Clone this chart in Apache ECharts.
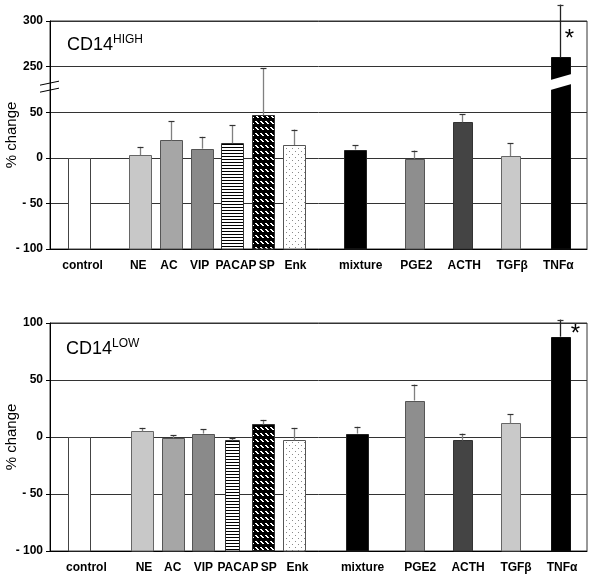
<!DOCTYPE html>
<html><head><meta charset="utf-8">
<script src="https://cdn.jsdelivr.net/npm/echarts@6/dist/echarts.min.js"></script>
<style>html,body{margin:0;padding:0;background:#fff}#c{width:600px;height:585px}</style>
</head><body><div id="c"></div>
<script>
// ---------------- DATA ----------------
const categories = ['control','NE','AC','VIP','PACAP','SP','Enk','mixture','PGE2','ACTH','TGFβ','TNFα'];
// CD14 HIGH (% change)
const highValues = [0, 3, 19, 10, 16, 47, 14, 9, -1, 39, 2, 260];
const highErrors = [0, 9, 21, 13, 20, 51, 17, 5, 9, 9, 14, 58];
// CD14 LOW (% change)
const lowValues  = [0, 5, -1, 3, -3, 11, -3, 3, 32, -3, 12, 88];
const lowErrors  = [0, 3, 2.5, 4, 2, 4, 11, 6, 14, 6, 8, 15];
const significant = ['TNFα'];
const highTicks = [-100, -50, 0, 50, 250, 300];
const lowTicks  = [-100, -50, 0, 50, 100];
const highBreak = [50, 250];

// ---------------- LAYOUT / STYLE ----------------
const slotCount = 281;
const barSlotsHigh   = [15, 47, 63, 79, 95, 111, 127, 159, 190, 215, 240, 266];
const labelSlotsHigh = [17, 46, 62, 78, 97, 113, 128, 162, 191, 216, 241, 265];
const barSlotsLow    = [15, 48, 64, 80, 95, 111, 127, 160, 190, 215, 240, 266];
const labelSlotsLow  = [19, 49, 64, 80, 98, 114, 129, 163, 193, 218, 243, 267];
function axisSlots(labelSlots) {
  const a = new Array(slotCount).fill('');
  categories.forEach((c, i) => { a[labelSlots[i]] = c; });
  return a;
}
const barWidthsHigh = [22,22,22,22,22,22,22,22,19,19,19,19];
const barWidthsLow  = [22,22,22,22,14,22,22,22,19,19,19,19];
const breakGapUnits = 50; // the break occupies one tick interval

function pattern(kind) {
  const c = document.createElement('canvas');
  const ctx = c.getContext('2d');
  if (kind === 'hstripe') {
    c.width = 4; c.height = 3;
    ctx.fillStyle = '#fff'; ctx.fillRect(0,0,4,3);
    ctx.fillStyle = '#000'; ctx.fillRect(0,0,4,1);
  } else if (kind === 'diag') {
    c.width = 5; c.height = 6;
    ctx.fillStyle = '#000'; ctx.fillRect(0,0,5,6);
    ctx.fillStyle = '#fff';
    [[0,1],[1,1],[1,2],[2,2],[2,3],[3,3]].forEach(p => ctx.fillRect(p[0],p[1],1,1));
  } else {
    c.width = 6; c.height = 6;
    ctx.fillStyle = '#fff'; ctx.fillRect(0,0,6,6);
    ctx.fillStyle = '#8a8a8a'; ctx.fillRect(1,1,1,1); ctx.fillRect(4,4,1,1);
  }
  return { image: c, repeat: 'repeat' };
}
const fills = ['#ffffff','#c8c8c8','#a6a6a6','#8a8a8a',pattern('hstripe'),pattern('diag'),pattern('dots'),
               '#000000','#8e8e8e','#444444','#c9c9c9','#000000'];
const strokes = ['#444','#666','#555','#555','#333','#333','#555','#222','#555','#333','#666','#111'];

const FONT = "'Liberation Sans', Arial, sans-serif";

// scale transforms (broken axis for CD14 HIGH; bars start at -100)
const tHigh = v => v <= highBreak[0] ? v + 100 : v - highBreak[1] + highBreak[0] + breakGapUnits + 100;
const invHigh = t => t <= highBreak[0] + 100 ? t - 100 : t + highBreak[1] - highBreak[0] - breakGapUnits - 100;
const tLow = v => v + 100;
const invLow = t => t - 100;
const fmt = v => v < 0 ? '- ' + Math.abs(v) : String(v);

const chart = echarts.init(document.getElementById('c'));

function barData(values, errors, T, slots) {
  return categories.map((c, i) => [slots[i], T(values[i]), i, values[i], errors[i], significant.indexOf(c) >= 0 ? 1 : 0]);
}

function renderBars(widths, breakInfo) {
  return function (params, api) {
    const i = api.value(2);
    const x = api.value(0);
    const p0 = api.coord([x, 0]);
    const p1 = api.coord([x, api.value(1)]);
    const w = widths[i];
    const left = Math.round(p0[0] - w / 2) + 0.5;
    const top = Math.round(p1[1]) + 0.5;
    const children = [{
      type: 'rect',
      shape: { x: left, y: top, width: w, height: Math.round(p0[1]) - top },
      style: { fill: fills[i], stroke: strokes[i], lineWidth: 1 }
    }];
    if (breakInfo && api.value(3) > breakInfo.low) {
      const yc = api.coord([x, breakInfo.mid])[1];
      const xl = left - 1, xr = left + w + 1;
      children.push({
        type: 'polygon',
        shape: { points: [[xl, yc + 3 - 5], [xr, yc - 3 - 5], [xr, yc - 3 + 5], [xl, yc + 3 + 5]] },
        style: { fill: '#fff' }
      });
    }
    return { type: 'group', children };
  };
}

function renderErrors(star) {
  return function (params, api) {
    const i = api.value(2);
    const x = api.value(0);
    const err = api.value(4);
    const p1 = api.coord([x, api.value(1)]);
    const p2 = api.coord([x, api.value(1) + err]);
    const cx = Math.round(p1[0]) + 0.5;
    const children = [];
    if (err > 0) {
      children.push({ type: 'line', shape: { x1: cx, y1: p1[1], x2: cx, y2: p2[1] }, style: { stroke: i === 11 ? '#222' : '#808080', lineWidth: 1.3 } });
      children.push({ type: 'line', shape: { x1: cx - 3, y1: Math.round(p2[1]) + 0.5, x2: cx + 3, y2: Math.round(p2[1]) + 0.5 }, style: { stroke: '#333', lineWidth: 1.2 } });
    }
    if (api.value(5)) {
      children.push({ type: 'text', x: cx + star.dx, y: p1[1] + star.dy,
        style: { text: '*', font: "24px 'Liberation Sans', Arial, sans-serif", fill: '#000', align: 'center', verticalAlign: 'middle' } });
    }
    return { type: 'group', children };
  };
}

function renderAxisBreak(params, api) {
  const y = api.coord([0, api.value(1)])[1];
  const ax = params.coordSys.x;
  const lines = [-3.5, 3.5].map(d => ({
    type: 'line',
    shape: { x1: ax - 10, y1: y + d + 2, x2: ax + 9, y2: y + d - 2 },
    style: { stroke: '#000', lineWidth: 1 }
  }));
  return { type: 'group', children: lines };
}

function xAxis(gi, labelSlots) {
  return {
    gridIndex: gi, type: 'category', data: axisSlots(labelSlots), boundaryGap: false,
    axisLine: { lineStyle: { color: '#000', width: 1 } },
    axisTick: { show: false },
    splitLine: { show: false },
    axisLabel: { interval: 0, fontFamily: FONT, fontWeight: 'bold', fontSize: 12, color: '#000', margin: 11 }
  };
}
function yAxis(gi, max, inv) {
  return {
    gridIndex: gi, type: 'value', min: 0, max: max, interval: 50,
    name: '% change', nameLocation: 'middle', nameGap: 31, nameMoveOverlap: false,
    nameTextStyle: { fontFamily: FONT, fontSize: 15, color: '#000' },
    axisLine: { show: true, lineStyle: { color: '#000', width: 1 } },
    axisTick: { show: true, length: 4, lineStyle: { color: '#000' } },
    splitLine: { show: true, lineStyle: { color: '#333', width: 1 } },
    axisLabel: { formatter: v => fmt(inv(v)), fontFamily: FONT, fontWeight: 'bold', fontSize: 12, color: '#000', margin: 7 }
  };
}

const titleRich = {
  a: { fontFamily: FONT, fontSize: 18, fontWeight: 'normal', color: '#000', lineHeight: 20, verticalAlign: 'bottom' },
  b: { fontFamily: FONT, fontSize: 12, fontWeight: 'normal', color: '#000', lineHeight: 12, verticalAlign: 'top' }
};

const option = {
  animation: false,
  backgroundColor: '#fff',
  title: [
    { text: '{a|CD14}{b|HIGH}', left: 67, top: 34, padding: 0, textStyle: { fontWeight: 'normal', rich: titleRich } },
    { text: '{a|CD14}{b|LOW}', left: 66, top: 338, padding: 0, textStyle: { fontWeight: 'normal', rich: titleRich } }
  ],
  grid: [
    { left: 50, right: 13, top: 21, height: 228, show: true, borderColor: '#333', borderWidth: 1, containLabel: false, outerBoundsMode: 'none' },
    { left: 50, right: 13, top: 323, height: 228, show: true, borderColor: '#333', borderWidth: 1, containLabel: false, outerBoundsMode: 'none' }
  ],
  xAxis: [xAxis(0, labelSlotsHigh), xAxis(1, labelSlotsLow)],
  yAxis: [yAxis(0, tHigh(highTicks[highTicks.length - 1]), invHigh), yAxis(1, tLow(lowTicks[lowTicks.length - 1]), invLow)],
  series: [
    { type: 'custom', xAxisIndex: 0, yAxisIndex: 0, clip: false, z: 3,
      renderItem: renderBars(barWidthsHigh, { low: highBreak[0], mid: (tHigh(highBreak[0]) + tHigh(highBreak[1])) / 2 + 8 }),
      data: barData(highValues, highErrors, tHigh, barSlotsHigh) },
    { type: 'custom', xAxisIndex: 0, yAxisIndex: 0, clip: false, z: 4,
      renderItem: renderErrors({ dx: 9, dy: -18 }),
      data: barData(highValues, highErrors, tHigh, barSlotsHigh) },
    { type: 'custom', xAxisIndex: 0, yAxisIndex: 0, clip: false, z: 5,
      renderItem: renderAxisBreak,
      data: [[0, (tHigh(highBreak[0]) + tHigh(highBreak[1])) / 2 + 3]] },
    { type: 'custom', xAxisIndex: 1, yAxisIndex: 1, clip: false, z: 3,
      renderItem: renderBars(barWidthsLow, null),
      data: barData(lowValues, lowErrors, tLow, barSlotsLow) },
    { type: 'custom', xAxisIndex: 1, yAxisIndex: 1, clip: false, z: 4,
      renderItem: renderErrors({ dx: 15, dy: -2 }),
      data: barData(lowValues, lowErrors, tLow, barSlotsLow) }
  ]
};
chart.setOption(option);
</script>
</body></html>
